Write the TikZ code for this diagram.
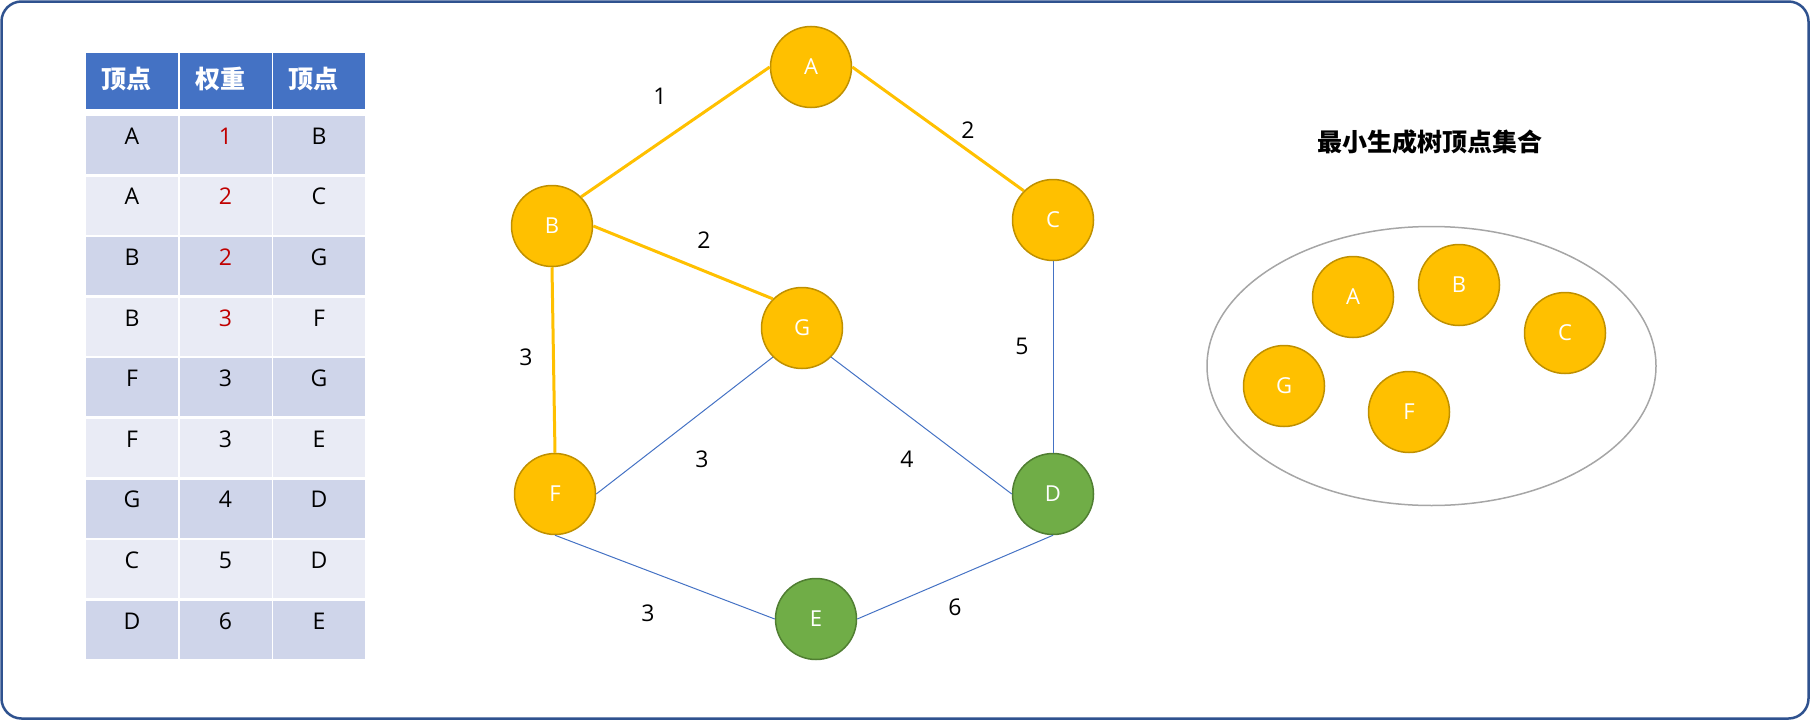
\documentclass[tikz,border=0pt]{standalone}
\usepackage{fontspec}
\setmainfont{Open Sans}
\newfontfamily\cjk{Noto Sans CJK SC}
\usetikzlibrary{shapes.geometric}
\definecolor{frameblue}{RGB}{47,82,143}
\definecolor{hdrblue}{RGB}{68,114,196}
\definecolor{rowdark}{RGB}{207,213,234}
\definecolor{rowlight}{RGB}{233,235,245}
\definecolor{gold}{RGB}{255,192,0}
\definecolor{golddark}{RGB}{191,144,0}
\definecolor{leaf}{RGB}{112,173,71}
\definecolor{leafdark}{RGB}{80,126,50}
\definecolor{wred}{RGB}{192,0,0}
\definecolor{setgray}{RGB}{166,166,166}

\tikzset{
  vtx/.style={circle, fill=gold, draw=golddark, line width=1.5pt, minimum size=81pt, inner sep=0pt, text=white, font=\fontsize{22}{26}\selectfont},
  vtxg/.style={vtx, fill=leaf, draw=leafdark},
  tree/.style={gold, line width=3pt},
  rest/.style={hdrblue, line width=1pt},
  wt/.style={font=\fontsize{23}{27}\selectfont},
  hdr/.style={anchor=west, text=white, font=\cjk\bfseries\fontsize{25}{29}\selectfont}
}

\begin{document}
\begin{tikzpicture}[x=1pt, y=-1pt]
  \useasboundingbox (0,0) rectangle (1810,720);
  \draw[frameblue, line width=2.5pt, rounded corners=20pt] (1.5,1.5) rectangle (1808.5,718.5);

  % table
  \foreach \x/\t [count=\i] in {86/顶点, 180/权重, 273/顶点} {
    \fill[hdrblue] (\x,53) rectangle ++(91.5,56);
    \node[hdr] (h\i) at (\x+12,79) {\t};
  }
  \foreach \a/\w/\b/\c/\bg [count=\r] in {A/1/B/wred/rowdark, A/2/C/wred/rowlight, B/2/G/wred/rowdark, B/3/F/wred/rowlight, F/3/G/black/rowdark, F/3/E/black/rowlight, G/4/D/black/rowdark, C/5/D/black/rowlight, D/6/E/black/rowdark} {
    \pgfmathsetmacro\top{116+(\r-1)*60.6}
    \fill[\bg] (86,\top) rectangle ++(91.5,58);
    \fill[\bg] (180,\top) rectangle ++(91.5,58);
    \fill[\bg] (273,\top) rectangle ++(91.5,58);
    \node[wt] (a\r) at (132,\top+20) {\a};
    \node[wt, text=\c] (w\r) at (225.5,\top+20) {\w};
    \node[wt] (b\r) at (319,\top+20) {\b};
  }

  % graph
  \node[vtx] (A) at (811,67) {A};
  \node[vtx] (B) at (552,226) {B};
  \node[vtx] (C) at (1053,220) {C};
  \node[vtx] (G) at (802,328) {G};
  \node[vtxg] (D) at (1053,494) {D};
  \node[vtx] (F) at (555,494) {F};
  \node[vtxg] (E) at (816,619) {E};

  \draw[tree] (A.west) -- (B.north east);
  \draw[tree] (A.east) -- (C.north west);
  \draw[tree] (B.east) -- (G.north west);
  \draw[tree] (B.south) -- (F.north);
  \draw[rest] (G.south west) -- (F.east);
  \draw[rest] (G.south east) -- (D.west);
  \draw[rest] (C.south) -- (D.north);
  \draw[rest] (F.south) -- (E.west);
  \draw[rest] (E.east) -- (D.south);

  \node[wt] (lab) at (660,96) {1};
  \node[wt] (lac) at (968,130) {2};
  \node[wt] (lbg) at (704,240) {2};
  \node[wt] (lbf) at (526,357) {3};
  \node[wt] (lcd) at (1022,346) {5};
  \node[wt] (lgf) at (702,459) {3};
  \node[wt] (lgd) at (907,459) {4};
  \node[wt] (lfe) at (648,613) {3};
  \node[wt] (led) at (955,607) {6};

  % vertex set
  \node[font=\cjk\bfseries\fontsize{25}{29}\selectfont] (title) at (1430,142) {最小生成树顶点集合};
  \node[ellipse, draw=setgray, line width=1.5pt, minimum width=449pt, minimum height=279pt] (set) at (1431.5,366) {};
  \node[vtx] (sA) at (1353,297) {A};
  \node[vtx] (sB) at (1459,285) {B};
  \node[vtx] (sC) at (1565,333) {C};
  \node[vtx] (sG) at (1284,386) {G};
  \node[vtx] (sF) at (1409,412) {F};
\end{tikzpicture}
\end{document}
